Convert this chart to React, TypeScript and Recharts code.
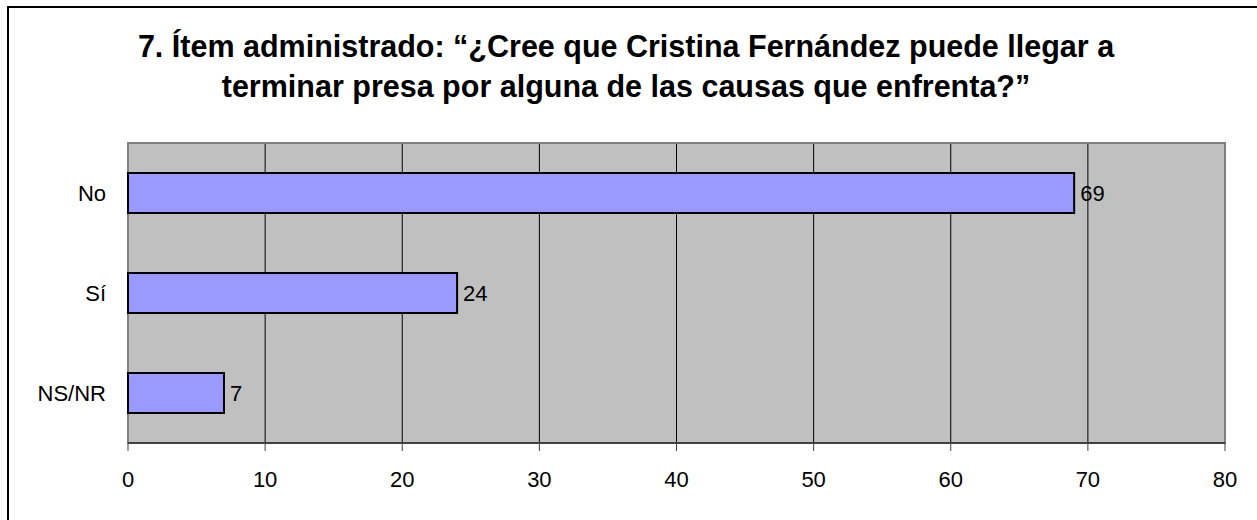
import { BarChart, Bar, XAxis, YAxis, CartesianGrid, LabelList, ReferenceArea } from "recharts";

const categories = ["No", "Sí", "NS/NR"];
const values = [69, 24, 7];
const xTicks = [0, 10, 20, 30, 40, 50, 60, 70, 80];
const frameTicks = [0, 1, 2, 3];
const titleLines = [
  "7. Ítem administrado: “¿Cree que Cristina Fernández puede llegar a",
  "terminar presa por alguna de las causas que enfrenta?”",
];

const data = categories.map((name, i) => ({ name, value: values[i] }));

const font = "'Liberation Sans', Arial, sans-serif";

export default function App() {
  return (
    <div
      style={{
        position: "absolute",
        left: 0,
        top: 0,
        width: 1257,
        height: 520,
        overflow: "hidden",
        background: "#fff",
        fontFamily: font,
      }}
    >
      {/* outer frame runs off the right/bottom edge like the source */}
      <div
        style={{
          position: "absolute",
          left: 7,
          top: 6,
          width: 1300,
          height: 600,
          border: "2px solid #000",
        }}
      />
      <div
        style={{
          position: "absolute",
          left: 0,
          top: 26,
          width: 1252,
          textAlign: "center",
          fontWeight: "bold",
          fontSize: 30.5,
          lineHeight: "40px",
          color: "#000",
        }}
      >
        {titleLines.map((t) => (
          <div key={t}>{t}</div>
        ))}
      </div>
      <div style={{ position: "absolute", left: 0, top: 0 }}>
        <BarChart
          width={1257}
          height={520}
          data={data}
          layout="vertical"
          barCategoryGap="30%"
          margin={{ top: 143, right: 32, bottom: 37, left: 18 }}
        >
          <CartesianGrid
            horizontal={false}
            stroke="#000"
            fill="#C0C0C0"
            fillOpacity={1}
          />
          <ReferenceArea
            x1={0}
            x2={80}
            fill="none"
            stroke="#808080"
            strokeWidth={2}
            ifOverflow="visible"
          />
          <XAxis
            type="number"
            domain={[0, 80]}
            ticks={xTicks}
            interval={0}
            stroke="#404040"
            tickSize={8}
            tickMargin={20}
            height={40}
            tick={{ fill: "#000", fontSize: 22, fontFamily: font }}
            axisLine={{ stroke: "#404040", strokeWidth: 2 }}
            tickLine={{ stroke: "#404040" }}
          />
          <YAxis
            yAxisId="frame"
            type="number"
            domain={[0, 3]}
            ticks={frameTicks}
            reversed
            width={0}
            tick={false}
            tickSize={8}
            axisLine={{ stroke: "#404040", strokeWidth: 2 }}
            tickLine={{ stroke: "#404040" }}
          />
          <YAxis
            type="category"
            dataKey="name"
            width={110}
            axisLine={false}
            tickLine={false}
            tickSize={0}
            tickMargin={22}
            tick={{ fill: "#000", fontSize: 22, fontFamily: font }}
          />
          <Bar
            dataKey="value"
            fill="#9999FF"
            stroke="#000"
            strokeWidth={2}
            isAnimationActive={false}
          >
            <LabelList
              dataKey="value"
              position="right"
              offset={6}
              fill="#000"
              fontSize={22}
              fontFamily={font}
            />
          </Bar>
        </BarChart>
      </div>
    </div>
  );
}
